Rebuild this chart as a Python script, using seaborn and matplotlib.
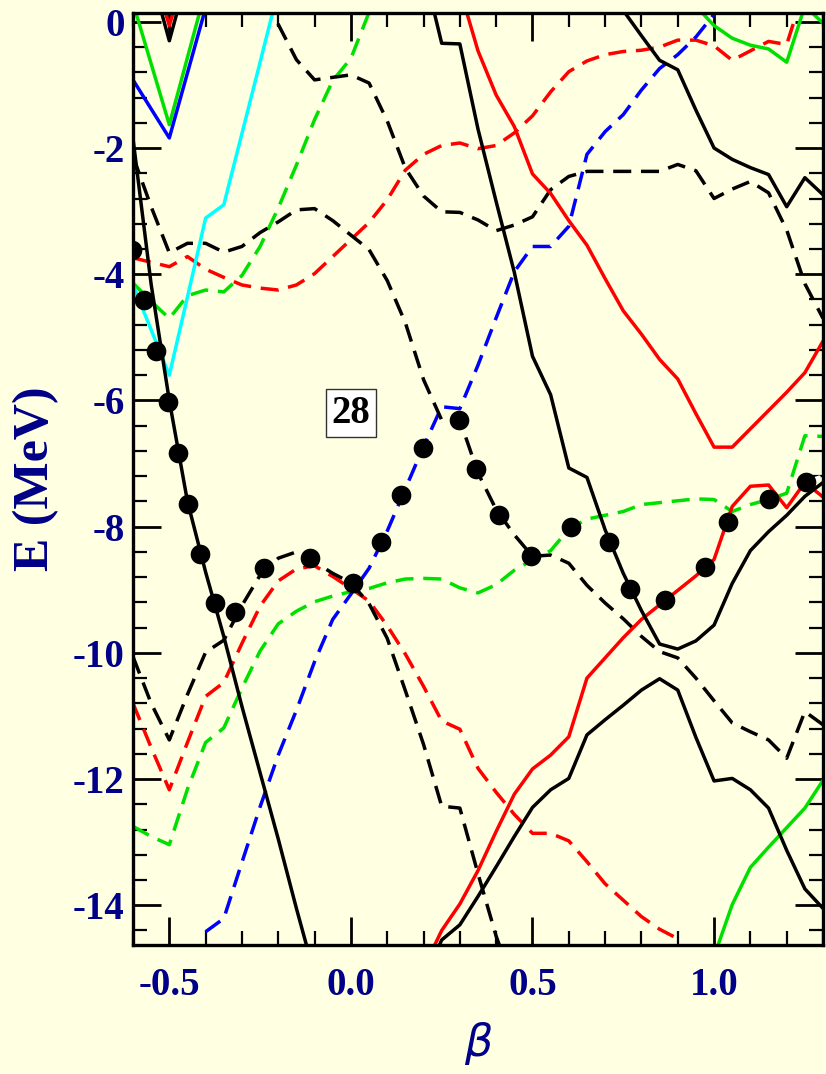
import numpy as np
import pandas as pd
import seaborn as sns
import matplotlib.pyplot as plt
from matplotlib.ticker import MultipleLocator

# single-particle levels vs deformation beta
# solid = positive parity, dashed = negative parity

# --- solid levels ---
k_sol_a_x = [-0.60, -0.55, -0.50, -0.45, -0.40, -0.35, -0.30, -0.25, -0.20, -0.15, -0.10]
k_sol_a_y = [-1.85, -4.16, -6.00, -7.60, -8.72, -9.74, -10.85, -11.90, -12.95, -14.05, -15.10]

k_sol_b_x = [0.75, 0.80, 0.85, 0.90, 0.95, 1.00, 1.05, 1.10, 1.15, 1.20, 1.25, 1.30]
k_sol_b_y = [0.18, -0.22, -0.61, -0.76, -1.40, -2.00, -2.18, -2.31, -2.42, -2.93, -2.47, -2.74]

k_sol_c_x = [0.20, 0.25, 0.30, 0.35, 0.40, 0.45, 0.50, 0.55, 0.60, 0.65, 0.70, 0.75,
             0.80, 0.85, 0.90, 0.95, 1.00, 1.05, 1.10, 1.15, 1.20, 1.25, 1.30]
k_sol_c_y = [0.85, -0.34, -0.35, -1.70, -2.85, -3.97, -5.30, -5.91, -7.07, -7.22, -8.05, -8.74,
             -9.33, -9.86, -9.94, -9.81, -9.56, -8.90, -8.38, -8.08, -7.82, -7.52, -7.30]

k_sol_d_x = k_sol_c_x
k_sol_d_y = [-15.20, -14.55, -14.31, -13.86, -13.39, -12.91, -12.45, -12.17, -11.99, -11.30, -11.06, -10.83,
             -10.59, -10.41, -10.59, -11.34, -12.03, -11.99, -12.17, -12.46, -13.13, -13.74, -14.05]

k_sol_v_x = [-0.55, -0.50, -0.45]
k_sol_v_y = [0.75, -0.30, 0.75]

r_sol_e_x = [0.30, 0.35, 0.40, 0.45, 0.50, 0.55, 0.60, 0.65, 0.70, 0.75, 0.80,
             0.85, 0.90, 0.95, 1.00, 1.05, 1.10, 1.15, 1.20, 1.25, 1.30]
r_sol_e_y = [0.52, -0.46, -1.16, -1.66, -2.41, -2.72, -3.15, -3.54, -4.07, -4.58, -4.95,
             -5.35, -5.66, -6.21, -6.74, -6.74, -6.45, -6.16, -5.87, -5.56, -5.06]

r_sol_f_x = k_sol_c_x
r_sol_f_y = [-15.00, -14.40, -13.98, -13.45, -12.83, -12.24, -11.84, -11.62, -11.33, -10.40, -10.08, -9.76,
             -9.47, -9.24, -9.01, -8.78, -8.52, -7.68, -7.36, -7.34, -7.70, -7.30, -7.53]

r_sol_v_x = [-0.55, -0.50, -0.45]
r_sol_v_y = [0.90, -0.06, 0.90]

g_sol_a_x = [-0.60, -0.50, -0.40]
g_sol_a_y = [0.30, -1.63, 0.50]

g_sol_b_x = [0.95, 1.00, 1.05, 1.10, 1.15, 1.20, 1.25, 1.30]
g_sol_b_y = [0.25, -0.06, -0.26, -0.37, -0.43, -0.64, 0.25, -0.02]

g_sol_c_x = [1.00, 1.05, 1.10, 1.15, 1.20, 1.25, 1.30]
g_sol_c_y = [-14.81, -13.99, -13.40, -13.08, -12.77, -12.46, -12.02]

b_sol_x = [-0.60, -0.50, -0.40]
b_sol_y = [-0.92, -1.84, 0.22]

c_sol_x = [-0.60, -0.55, -0.50, -0.45, -0.40, -0.35, -0.30, -0.25, -0.20]
c_sol_y = [-4.17, -4.88, -5.60, -4.36, -3.11, -2.90, -1.77, -0.64, 0.50]

# --- dashed levels ---
full_x = [-0.60, -0.55, -0.50, -0.45, -0.40, -0.35, -0.30, -0.25, -0.20, -0.15, -0.10, -0.05, 0.00,
          0.05, 0.10, 0.15, 0.20, 0.25, 0.30, 0.35, 0.40, 0.45, 0.50, 0.55, 0.60, 0.65,
          0.70, 0.75, 0.80, 0.85, 0.90, 0.95, 1.00, 1.05, 1.10, 1.15, 1.20, 1.25, 1.30]

k_dash_p_x = full_x[7:]
k_dash_p_y = [0.52, -0.04, -0.60, -0.92, -0.88, -0.84, -0.97, -1.57, -2.32, -2.76, -3.01, -3.02,
              -3.14, -3.31, -3.22, -3.09, -2.66, -2.45, -2.37, -2.37, -2.37, -2.37, -2.37, -2.26,
              -2.36, -2.80, -2.65, -2.53, -2.71, -3.30, -4.15, -4.70]

k_dash_q_x = full_x
k_dash_q_y = [-2.13, -2.93, -3.66, -3.51, -3.51, -3.65, -3.56, -3.34, -3.17, -2.98, -2.96, -3.15, -3.38,
              -3.61, -4.10, -4.77, -5.67, -6.31, -6.31, -7.15, -7.73, -8.13, -8.47, -8.45, -8.58, -8.93,
              -9.21, -9.46, -9.74, -9.98, -10.08, -10.40, -10.76, -11.11, -11.25, -11.38, -11.67, -10.93, -11.14]

k_dash_x_x = full_x[:22]
k_dash_x_y = [-10.06, -10.80, -11.38, -10.66, -9.99, -9.80, -9.25, -8.77, -8.50, -8.40, -8.56, -8.74,
              -8.89, -9.22, -9.77, -10.60, -11.45, -12.43, -12.46, -13.50, -14.49, -15.30]

b_dash_x = full_x[4:33]
b_dash_y = [-14.42, -14.21, -13.32, -12.44, -11.62, -10.91, -10.14, -9.47, -9.07, -8.66, -8.07, -7.40,
            -6.73, -6.10, -6.13, -5.44, -4.69, -3.96, -3.56, -3.56, -3.24, -2.10, -1.74, -1.47,
            -1.08, -0.74, -0.52, -0.24, 0.12]

r_dash_s_x = full_x[:38]
r_dash_s_y = [-3.74, -3.81, -3.88, -3.72, -3.92, -4.05, -4.17, -4.22, -4.25, -4.17, -3.99, -3.72, -3.45,
              -3.18, -2.82, -2.35, -2.10, -1.96, -1.92, -2.01, -1.96, -1.76, -1.49, -1.11, -0.79, -0.62,
              -0.52, -0.47, -0.45, -0.40, -0.29, -0.29, -0.38, -0.61, -0.46, -0.31, -0.36, 0.55]

r_dash_t_x = full_x[:31]
r_dash_t_y = [-10.80, -11.50, -12.17, -11.42, -10.69, -10.47, -9.85, -9.26, -8.86, -8.67, -8.62, -8.79,
              -8.98, -9.18, -9.57, -10.02, -10.53, -11.08, -11.21, -11.83, -12.21, -12.56, -12.86,
              -12.86, -12.98, -13.31, -13.66, -13.92, -14.18, -14.38, -14.53]

g_dash_v_x = full_x[:14]
g_dash_v_y = [-4.14, -4.43, -4.70, -4.34, -4.25, -4.28, -4.02, -3.56, -2.95, -2.27, -1.55, -0.93, -0.58, 0.15]

g_dash_w_x = full_x
g_dash_w_y = [-12.75, -12.91, -13.04, -12.16, -11.42, -11.19, -10.56, -9.97, -9.54, -9.34, -9.19, -9.10,
              -9.03, -8.98, -8.89, -8.83, -8.82, -8.83, -8.97, -9.05, -8.92, -8.69, -8.53, -8.38,
              -8.04, -7.88, -7.82, -7.76, -7.65, -7.62, -7.59, -7.56, -7.57, -7.76, -7.65, -7.57,
              -7.47, -6.56, -6.57]

w_sol_x = [1.22, 1.29]
w_sol_y = [-7.34, -7.21]

# occupied (lowest) level for 28 particles
dot_x = [-0.602, -0.569, -0.537, -0.503, -0.475, -0.448, -0.415, -0.374, -0.319, -0.239, -0.113,
         0.006, 0.083, 0.139, 0.198, 0.299, 0.344, 0.408, 0.495, 0.605, 0.712, 0.769, 0.866,
         0.974, 1.038, 1.152, 1.252]
dot_y = [-3.61, -4.41, -5.22, -6.03, -6.84, -7.64, -8.44, -9.21, -9.35, -8.65, -8.49,
         -8.90, -8.25, -7.50, -6.75, -6.31, -7.08, -7.82, -8.47, -8.01, -8.24, -8.99, -9.17,
         -8.64, -7.92, -7.56, -7.29]

BG = "#FFFFE2"
NAVY = "#000088"
GREEN = "#00E000"
LW = 2.5
DASH = (0, (5.2, 2.8))


def draw(ax, xs, ys, color, dashed=False, lw=LW):
    sns.lineplot(x=xs, y=ys, ax=ax, color=color, linewidth=lw,
                 linestyle=DASH if dashed else "-", estimator=None,
                 sort=False, legend=False)


sns.set_theme(style="ticks")
plt.rcParams["font.family"] = ["Liberation Serif", "DejaVu Serif"]
plt.rcParams["font.weight"] = "bold"
plt.rcParams["axes.unicode_minus"] = False

fig = plt.figure(figsize=(8.26, 10.74), dpi=100)
fig.patch.set_facecolor(BG)
ax = fig.add_axes([0.161, 0.1201, 0.8354, 0.8678])
ax.set_facecolor(BG)

# dashed (negative parity)
draw(ax, g_dash_v_x, g_dash_v_y, GREEN, True)
draw(ax, g_dash_w_x, g_dash_w_y, GREEN, True)
draw(ax, r_dash_s_x, r_dash_s_y, "red", True)
draw(ax, r_dash_t_x, r_dash_t_y, "red", True)
draw(ax, b_dash_x, b_dash_y, "blue", True)
draw(ax, k_dash_p_x, k_dash_p_y, "black", True)
draw(ax, k_dash_q_x, k_dash_q_y, "black", True)
draw(ax, k_dash_x_x, k_dash_x_y, "black", True)

# solid (positive parity)
draw(ax, c_sol_x, c_sol_y, "cyan")
draw(ax, g_sol_a_x, g_sol_a_y, GREEN)
draw(ax, b_sol_x, b_sol_y, "blue")
draw(ax, g_sol_b_x, g_sol_b_y, GREEN)
draw(ax, g_sol_c_x, g_sol_c_y, GREEN)
draw(ax, r_sol_e_x, r_sol_e_y, "red")
draw(ax, r_sol_f_x, r_sol_f_y, "red")
draw(ax, k_sol_v_x, k_sol_v_y, "black")
draw(ax, r_sol_v_x, r_sol_v_y, "red")
draw(ax, k_sol_a_x, k_sol_a_y, "black")
draw(ax, k_sol_b_x, k_sol_b_y, "black")
draw(ax, k_sol_c_x, k_sol_c_y, "black")
draw(ax, k_sol_d_x, k_sol_d_y, "black")

sns.scatterplot(x=dot_x, y=dot_y, ax=ax, color="black", s=200,
                edgecolor="black", linewidth=0, zorder=5, legend=False)
draw(ax, w_sol_x, w_sol_y, "white", lw=2.0)

ax.text(0.0, -6.2, "28", ha="center", va="center", fontsize=28,
        fontweight="bold", color="black", zorder=6,
        bbox=dict(boxstyle="square,pad=0.14", fc="white", ec="#333333", lw=1.0))

ax.set_xlim(-0.6, 1.3)
ax.set_ylim(-14.63, 0.14)
ax.xaxis.set_major_locator(MultipleLocator(0.5))
ax.xaxis.set_minor_locator(MultipleLocator(0.1))
ax.yaxis.set_major_locator(MultipleLocator(2))
ax.yaxis.set_minor_locator(MultipleLocator(0.4))
ax.xaxis.set_major_formatter(plt.FuncFormatter(lambda v, p: f"{v:.1f}"))
ax.yaxis.set_major_formatter(plt.FuncFormatter(lambda v, p: f"{v:.0f}"))

ax.tick_params(which="both", direction="in", top=True, right=True,
               color="black", labelcolor=NAVY, labelsize=28)
ax.tick_params(which="major", length=20, width=2.0)
ax.tick_params(which="minor", length=10, width=1.6)
ax.tick_params(axis="x", pad=16)
ax.tick_params(axis="y", pad=6)
for lab in ax.get_xticklabels() + ax.get_yticklabels():
    lab.set_fontweight("bold")

for sp in ax.spines.values():
    sp.set_linewidth(2.4)
    sp.set_color("black")

ax.set_ylabel("E (MeV)", fontsize=36, fontweight="bold", color=NAVY, labelpad=10)
ax.set_xlabel("β", fontsize=32, fontstyle="italic", fontweight="normal",
              color=NAVY, labelpad=13, family=["DejaVu Sans"])

fig.savefig("out.png", dpi=100, facecolor=BG)
